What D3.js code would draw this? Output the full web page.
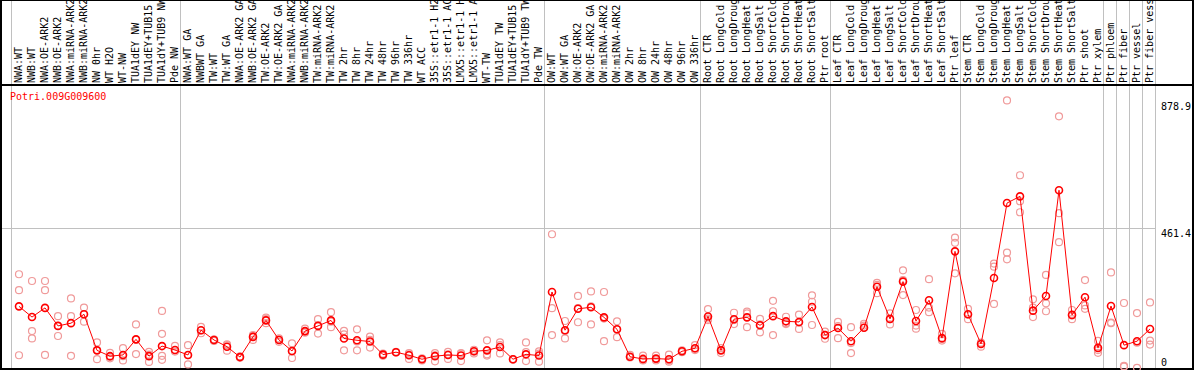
<!DOCTYPE html>
<html>
<head>
    <meta charset="utf-8">
    <title>Potri.009G009600</title>
    <script src="https://d3js.org/d3.v7.min.js"></script>
    <style>
        body { margin: 0; background: #fff; }
        text { font-family: "DejaVu Sans Mono", monospace; font-size: 10px; }
        .grid { stroke: #c0c0c0; stroke-width: 1; shape-rendering: crispEdges; }
        .frame { stroke: #000; stroke-width: 1.5; fill: none; shape-rendering: crispEdges; }
        .rep { fill: none; stroke: #f09a9a; stroke-width: 1.2; }
        .mean { fill: none; stroke: #ff0000; stroke-width: 1.6; }
        .trend { fill: none; stroke: #ff0000; stroke-width: 1; }
    </style>
</head>
<body>
<svg width="1194" height="370"></svg>
<script>
    var geneName = "Potri.009G009600";

    var labels = [
        "NWA:WT", "NWB:WT", "NWA:OE-ARK2", "NWB:OE-ARK2", "NWA:miRNA-ARK2", "NWB:miRNA-ARK2",
        "NW 0hr", "WT H2O", "WT-NW", "TUA1dEY NW", "TUA1dEY+TUB15 NW", "TUA1dY+TUB9 NW", "Pde NW",
        "NWA:WT GA", "NWBWT GA", "TW:WT", "TW:WT GA", "NWA:OE-ARK2 GA", "NWB:OE-ARK2 GA",
        "TW:OE-ARK2", "TW:OE-ARK2 GA", "NWA:miRNA-ARK2 GA", "NWB:miRNA-ARK2 GA", "TW:miRNA-ARK2",
        "TW:miRNA-ARK2", "TW 2hr", "TW 8hr", "TW 24hr", "TW 48hr", "TW 96hr", "TW 336hr", "WT ACC",
        "35S::etr1-1 H2O", "35S::etr1-1 ACC", "LMX5::etr1-1 H2O", "LMX5::etr1-1 ACC", "WT-TW",
        "TUA1dEY TW", "TUA1dEY+TUB15 TW", "TUA1dY+TUB9 TW", "Pde TW",
        "OW:WT", "OW:WT GA", "OW:OE-ARK2", "OW:OE-ARK2 GA", "OW:miRNA-ARK2", "OW:miRNA-ARK2",
        "OW 2hr", "OW 8hr", "OW 24hr", "OW 48hr", "OW 96hr", "OW 336hr",
        "Root CTR", "Root LongCold", "Root LongDrought", "Root LongHeat", "Root LongSalt",
        "Root ShortCold", "Root ShortDrought", "Root ShortHeat", "Root ShortSalt", "Ptr root",
        "Leaf CTR", "Leaf LongCold", "Leaf LongDrought", "Leaf LongHeat", "Leaf LongSalt",
        "Leaf ShortCold", "Leaf ShortDrought", "Leaf ShortHeat", "Leaf ShortSalt", "Ptr leaf",
        "Stem CTR", "Stem LongCold", "Stem LongDrought", "Stem LongHeat", "Stem LongSalt",
        "Stem ShortCold", "Stem ShortDrought", "Stem ShortHeat", "Stem ShortSalt", "Ptr shoot", "Ptr xylem",
        "Ptr phloem", "Ptr fiber", "Ptr vessel", "Ptr fiber vessel"
    ];

    // number of samples in each experiment block
    var groupSizes = [13, 28, 12, 10, 10, 11, 1, 1, 1, 1];

    var means = [
        205, 170, 200, 141, 150, 179, 61, 42, 46, 97, 42, 75, 62,
        46, 127, 95, 73, 39, 105, 159, 95, 59, 124, 141, 159, 100, 94, 90, 47, 55, 45, 32, 42, 46, 44, 58, 61, 72, 32, 48, 44,
        252, 127, 197, 202, 169, 130, 40, 33, 34, 32, 58, 68,
        172, 61, 163, 169, 143, 173, 156, 154, 203, 111,
        134, 91, 135, 269, 164, 286, 157, 225, 101, 385,
        179, 82, 298, 543, 565, 191, 239, 585, 177, 235, 69,
        206, 78, 91, 131
    ];

    var replicates = [
        [310, 258, 45], [288, 124, 100], [288, 258, 46], [173, 108, 141], [231, 173, 43], [201, 155, 180],
        [87, 32, 62], [53, 35, 40], [68, 28, 42], [146, 49, 96], [56, 23, 47], [190, 115, 43, 30], [76, 57],
        [78, 15, 45], [138, 117, 126], [97, 92], [81, 60, 78], [41, 37, 39], [111, 95, 108], [168, 163, 150],
        [97, 89, 100], [84, 36, 57], [132, 119, 122], [163, 116, 143], [186, 137, 155], [125, 61, 113],
        [130, 61, 90], [106, 70, 95], [50, 43, 48], [54, 56], [52, 33, 48], [32, 28, 35], [52, 25, 45],
        [56, 33, 48], [52, 26, 50], [57, 51, 63], [94, 44, 48], [87, 51, 78], [32, 30], [87, 55, 26], [58, 24, 50],
        [441, 199, 111], [157, 100, 124], [239, 153, 199], [254, 146, 205], [252, 91, 165], [156, 104, 130],
        [46, 38, 40], [44, 28, 30], [44, 28, 32], [47, 24, 28], [61, 55, 58], [78, 62, 66],
        [196, 160, 165], [68, 52, 62], [184, 147, 160], [188, 137, 182], [164, 120, 146], [223, 189, 111],
        [171, 147, 150], [178, 131, 152], [241, 220, 144], [122, 99, 112],
        [154, 101, 140], [137, 52, 85], [148, 142, 135], [282, 248, 275], [182, 146, 163], [323, 291, 242],
        [193, 142, 132], [294, 201, 186], [115, 93, 98], [430, 413, 313],
        [197, 163, 178], [86, 73, 85], [345, 335, 213], [878.9, 381, 359], [634, 549, 513], [228, 201, 170],
        [308, 215, 189], [827, 510, 415], [193, 163, 175], [291, 208, 197], [92, 53, 62],
        [316, 152, 150], [216, 8, 10], [183, 4, 86], [218, 93, 80]
    ];

    var svg = d3.select("svg"),
        width = +svg.attr("width"),
        height = +svg.attr("height"),
        headerH = 85,
        colW = 13,
        left = 11,
        bottom = 369;

    var maxVal = d3.max(replicates, function (r) { return d3.max(r); });
    var midVal = Math.round(maxVal * 1.05 / 2 * 10) / 10;

    var x = d3.scaleBand()
        .domain(d3.range(labels.length))
        .range([left, left + colW * labels.length])
        .padding(0);

    var y = d3.scaleLinear()
        .domain([0, maxVal * 1.05])
        .range([bottom, 87]);

    // group separators
    var bounds = [0];
    groupSizes.forEach(function (n) { bounds.push(bounds[bounds.length - 1] + n); });

    svg.selectAll(".vsep")
        .data(bounds)
        .enter().append("line")
        .attr("class", "grid")
        .attr("x1", function (d) { return left + d * colW + 0.5; })
        .attr("x2", function (d) { return left + d * colW + 0.5; })
        .attr("y1", 0)
        .attr("y2", bottom);

    // middle gridline
    svg.append("line")
        .attr("class", "grid")
        .attr("x1", 1).attr("x2", left + colW * labels.length + 1)
        .attr("y1", Math.round(y(midVal)) + 0.5)
        .attr("y2", Math.round(y(midVal)) + 0.5);

    // header labels (rotated)
    var header = svg.append("g");
    header.append("clipPath").attr("id", "hclip")
        .append("rect").attr("x", 0).attr("y", 0).attr("width", width).attr("height", headerH);

    header.append("g").attr("clip-path", "url(#hclip)")
        .selectAll("text")
        .data(labels)
        .enter().append("text")
        .attr("transform", function (d, i) {
            return "translate(" + (x(i) + 10.5) + "," + (headerH - 2) + ") rotate(-90)";
        })
        .attr("fill", "#000")
        .text(function (d) { return d; });

    // frame
    svg.append("rect").attr("class", "frame")
        .attr("x", 1).attr("y", 0.5).attr("width", width - 2).attr("height", bottom - 0.5);
    svg.append("line").attr("class", "frame")
        .attr("x1", 1).attr("x2", width - 1).attr("y1", headerH).attr("y2", headerH);

    // gene title
    svg.append("text")
        .attr("x", 10).attr("y", 100)
        .attr("fill", "#ff0000")
        .text(geneName);

    // y labels at the right
    var axisX = left + colW * labels.length + 6;
    var ticks = [
        { v: maxVal, dy: 9.5 },
        { v: midVal, dy: 8.5 },
        { v: 0, dy: -3 }
    ];
    svg.selectAll(".ylab")
        .data(ticks)
        .enter().append("text")
        .attr("x", axisX)
        .attr("y", function (d) { return y(d.v) + d.dy; })
        .attr("fill", "#000")
        .text(function (d) { return d.v === 0 ? "0" : d3.format(".1f")(d.v); });

    // replicate points
    var reps = [];
    replicates.forEach(function (r, i) {
        r.forEach(function (v) { reps.push({ i: i, v: v }); });
    });

    svg.append("g").selectAll("circle")
        .data(reps)
        .enter().append("circle")
        .attr("class", "rep")
        .attr("cx", function (d) { return x(d.i) + 8; })
        .attr("cy", function (d) { return y(d.v); })
        .attr("r", 3.5);

    // mean line + circles
    var line = d3.line()
        .x(function (d, i) { return x(i) + 8; })
        .y(function (d) { return y(d); });

    svg.append("path")
        .datum(means)
        .attr("class", "trend")
        .attr("d", line);

    svg.append("g").selectAll("circle")
        .data(means)
        .enter().append("circle")
        .attr("class", "mean")
        .attr("cx", function (d, i) { return x(i) + 8; })
        .attr("cy", function (d) { return y(d); })
        .attr("r", 3.5);
</script>
</body>
</html>
